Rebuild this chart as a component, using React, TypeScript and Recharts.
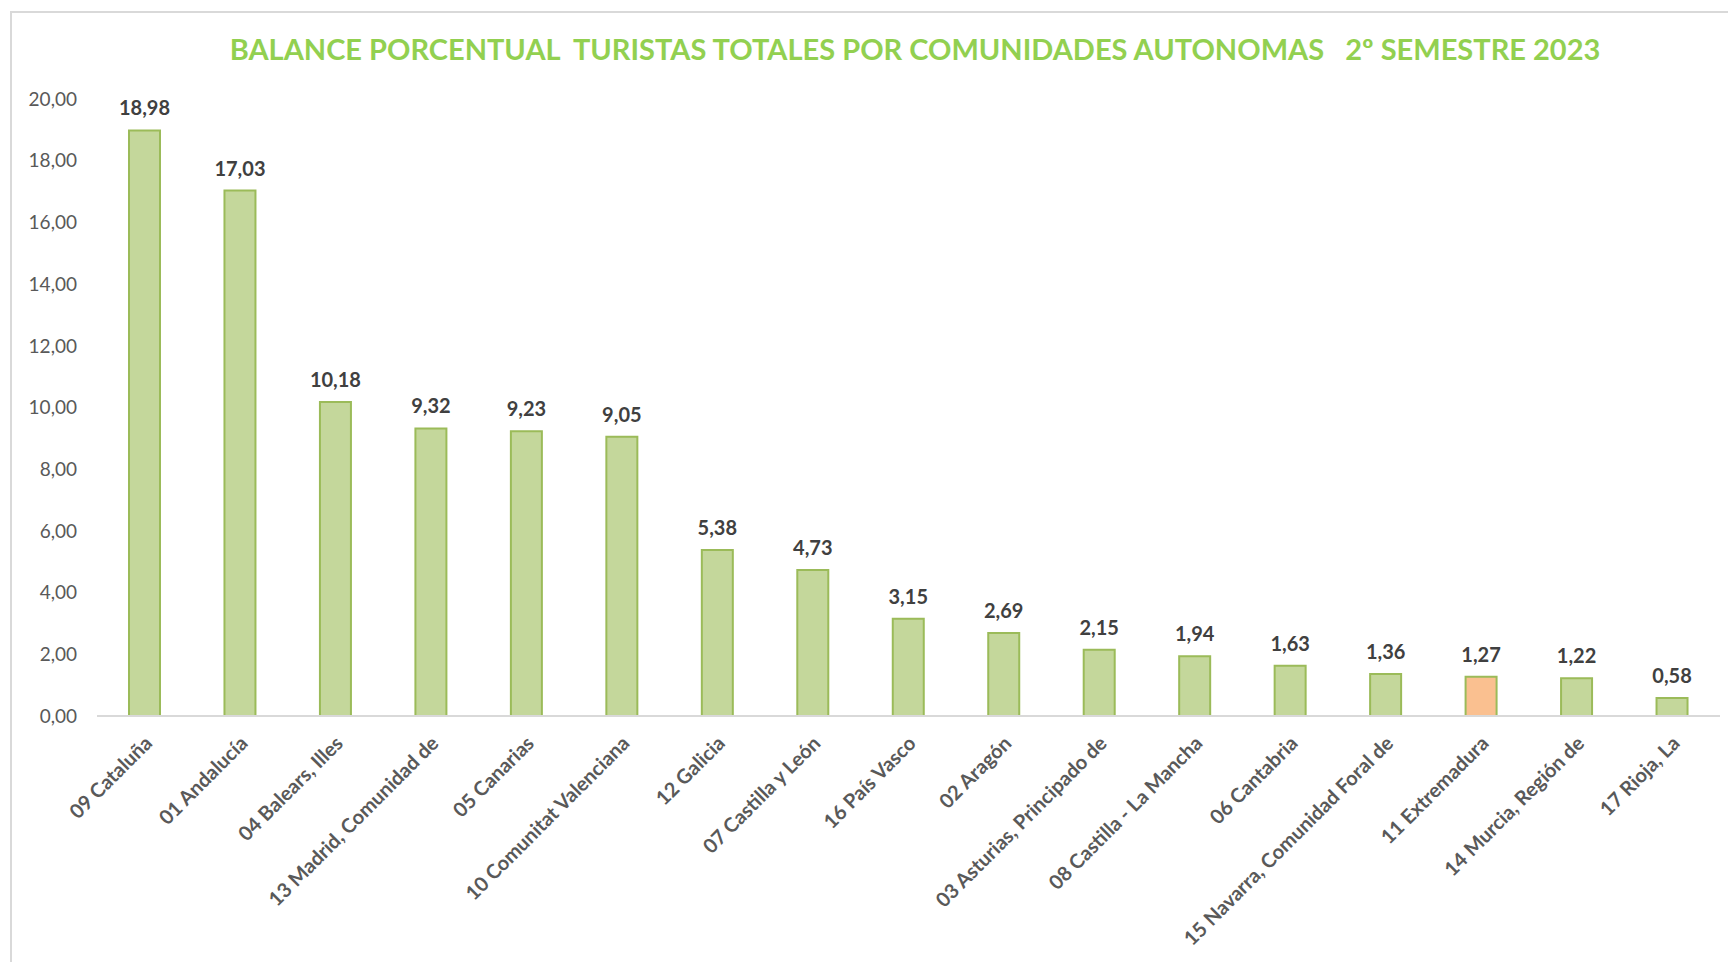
import { BarChart, Bar, XAxis, YAxis, Cell, LabelList } from 'recharts';

const comunidades = [
  '09 Cataluña',
  '01 Andalucía',
  '04 Balears, Illes',
  '13 Madrid, Comunidad de',
  '05 Canarias',
  '10 Comunitat Valenciana',
  '12 Galicia',
  '07 Castilla y León',
  '16 País Vasco',
  '02 Aragón',
  '03 Asturias, Principado de',
  '08 Castilla - La Mancha',
  '06 Cantabria',
  '15 Navarra, Comunidad Foral de',
  '11 Extremadura',
  '14 Murcia, Región de',
  '17 Rioja, La',
];

const porcentajes = [
  18.98, 17.03, 10.18, 9.32, 9.23, 9.05, 5.38, 4.73, 3.15, 2.69, 2.15, 1.94, 1.63, 1.36, 1.27, 1.22, 0.58,
];

const yTicks = [0, 2, 4, 6, 8, 10, 12, 14, 16, 18, 20];

const destacada = '11 Extremadura';

const FONT = 'Lato, "Open Sans", sans-serif';

const fmt = (v: number) => v.toFixed(2).replace('.', ',');

const chartData = comunidades.map((name, i) => ({ name, value: porcentajes[i] }));

function RotatedTick(props: any) {
  const { x, y, payload } = props;
  return (
    <g transform={`translate(${x + 3},${y + 15})`}>
      <text
        transform="rotate(-45)"
        textAnchor="end"
        dominantBaseline="central"
        fill="#595959"
        fontSize={20}
        fontWeight={700}
        fontFamily={FONT}
      >
        {payload.value}
      </text>
    </g>
  );
}

export default function App() {
  return (
    <div
      style={{
        position: 'absolute',
        left: 0,
        top: 0,
        width: 1728,
        height: 962,
        background: '#fff',
        overflow: 'hidden',
        fontFamily: FONT,
      }}
    >
      <div
        style={{
          position: 'absolute',
          left: 10,
          top: 11,
          width: 1740,
          height: 980,
          border: '2px solid #D9D9D9',
          boxSizing: 'border-box',
        }}
      />
      <div
        style={{
          position: 'absolute',
          left: 0,
          top: 31,
          width: 1830,
          textAlign: 'center',
          color: '#92D050',
          fontSize: 29,
          fontWeight: 700,
          whiteSpace: 'pre',
        }}
      >
        {'BALANCE PORCENTUAL  TURISTAS TOTALES POR COMUNIDADES AUTONOMAS   2º SEMESTRE 2023'}
      </div>
      <div style={{ position: 'absolute', left: 0, top: 0 }}>
        <BarChart
          width={1728}
          height={962}
          data={chartData}
          margin={{ top: 99, right: 8, bottom: 6, left: 0 }}
          barSize={31}
        >
          <XAxis
            dataKey="name"
            interval={0}
            height={240}
            tickLine={false}
            axisLine={{ stroke: '#D9D9D9', strokeWidth: 2 }}
            tick={<RotatedTick />}
          />
          <YAxis
            domain={[0, 20]}
            ticks={yTicks}
            width={97}
            axisLine={false}
            tickLine={false}
            tickMargin={14}
            tickFormatter={fmt}
            tick={{ fill: '#595959', fontSize: 19, fontFamily: FONT }}
          />
          <Bar dataKey="value" stroke="#9BBB59" strokeWidth={2} isAnimationActive={false}>
            {chartData.map((d) => (
              <Cell key={d.name} fill={d.name === destacada ? '#FAC090' : '#C4D79B'} />
            ))}
            <LabelList
              dataKey="value"
              position="top"
              offset={15}
              formatter={(v: any) => fmt(Number(v))}
              fill="#404040"
              fontSize={20}
              fontWeight={700}
              fontFamily={FONT}
            />
          </Bar>
        </BarChart>
      </div>
    </div>
  );
}
